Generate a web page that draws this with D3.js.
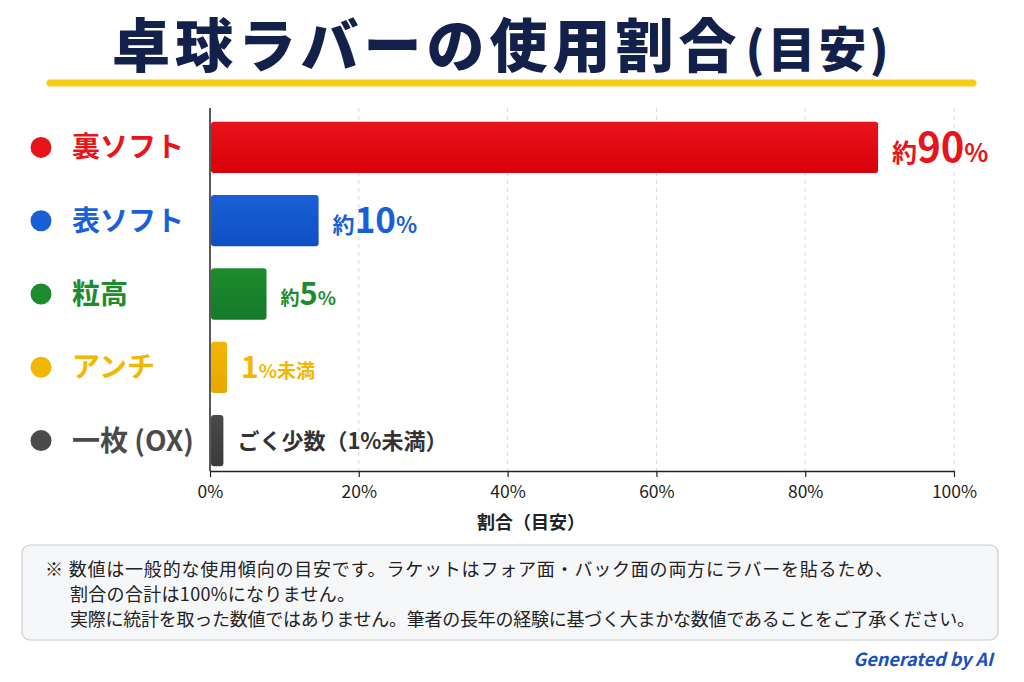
<!DOCTYPE html>
<html>
<head>
<meta charset="utf-8">
<script src="https://cdn.jsdelivr.net/npm/d3@7"></script>
<style>
  body { margin: 0; background: #ffffff; }
  svg text { font-family: "Noto Sans CJK JP", "Noto Sans", sans-serif; }
</style>
</head>
<body>
<div id="canevas"></div>
<script>
// ---------------- données ----------------
let categories = ["裏ソフト", "表ソフト", "粒高", "アンチ", "一枚 (OX)"];
let valeurs = [89.8, 14.6, 7.6, 2.3, 1.8];          // longueur (%)
let etiquettes = ["約90%", "約10%", "約5%", "1%未満", "ごく少数（1%未満）"];
let ticks = [0, 20, 40, 60, 80, 100];
let notes = [
  "※ 数値は一般的な使用傾向の目安です。ラケットはフォア面・バック面の両方にラバーを貼るため、",
  "割合の合計は100%になりません。",
  "実際に統計を取った数値ではありません。筆者の長年の経験に基づく大まかな数値であることをご了承ください。"
];

// styles
let couleurs = ["#e8141b", "#1a5fd6", "#1e8c2e", "#f2b705", "#4a4a4a"];
let couleursFonce = ["#d90008", "#0f4fc4", "#15792a", "#e8a800", "#3a3a3a"];
let taillesNombre = [40, 35, 31, 30, 22];
let longueursNotes = [848, 285, 905];

// ---------------- canevas ----------------
let largeur = 1024, hauteur = 682;
let svg = d3.select("#canevas").append("svg")
  .attr("width", largeur).attr("height", hauteur);

svg.append("rect").attr("width", largeur).attr("height", hauteur).attr("fill", "#ffffff");

// dégradés des barres
let defs = svg.append("defs");
couleurs.forEach((c, i) => {
  let g = defs.append("linearGradient").attr("id", "grad" + i)
    .attr("x1", 0).attr("y1", 0).attr("x2", 0).attr("y2", 1);
  g.append("stop").attr("offset", "0%").attr("stop-color", c);
  g.append("stop").attr("offset", "100%").attr("stop-color", couleursFonce[i]);
});

// titre
let titre = svg.append("text")
  .attr("x", 112).attr("y", 67)
  .attr("fill", "#13214a").attr("font-weight", 900);
titre.append("tspan").attr("font-size", 58).attr("letter-spacing", 5).text("卓球ラバーの使用割合");
titre.append("tspan").attr("font-size", 48).attr("letter-spacing", 3).attr("dx", 4).text("(目安)");

svg.append("line")
  .attr("x1", 50).attr("x2", 973).attr("y1", 83).attr("y2", 83)
  .attr("stroke", "#f5cc16").attr("stroke-width", 7).attr("stroke-linecap", "round");

// echelles
let echelleX = d3.scaleLinear().domain([0, 100]).range([210, 954]);
let echelleY = d3.scaleBand().domain(categories).range([113, 475]).paddingInner(0.3).paddingOuter(0.12);

// grille
svg.append("g").selectAll("line")
  .data(ticks.filter(t => t > 0))
  .enter().append("line")
  .attr("x1", d => echelleX(d)).attr("x2", d => echelleX(d))
  .attr("y1", 108).attr("y2", 471)
  .attr("stroke", "#d8d8d8").attr("stroke-width", 1).attr("stroke-dasharray", "4,4");

// axe x
let axeX = svg.append("g").attr("transform", "translate(0,471)")
  .call(d3.axisBottom(echelleX).tickValues(ticks).tickFormat(d => d + "%").tickSize(6).tickSizeOuter(0));
axeX.select(".domain").attr("stroke", "#222").attr("stroke-width", 1.5);
axeX.selectAll(".tick line").attr("stroke", "#222").attr("stroke-width", 1.2);
axeX.selectAll(".tick text").attr("font-size", 17.5).attr("fill", "#222").attr("dy", "1.0em");

svg.append("text").attr("x", 531).attr("y", 529).attr("text-anchor", "middle")
  .attr("font-size", 18).attr("font-weight", 700).attr("fill", "#222").text("割合（目安）");

// axe y
svg.append("line").attr("x1", 210).attr("x2", 210).attr("y1", 108).attr("y2", 471)
  .attr("stroke", "#222").attr("stroke-width", 1.5);

// barres
svg.append("g").selectAll("rect")
  .data(categories)
  .enter().append("rect")
  .attr("x", echelleX(0) + 1)
  .attr("y", d => echelleY(d))
  .attr("width", (d, i) => echelleX(valeurs[i]) - echelleX(0) - 1)
  .attr("height", echelleY.bandwidth())
  .attr("rx", 3)
  .attr("fill", (d, i) => "url(#grad" + i + ")");

// libellés des catégories
let lib = svg.append("g").selectAll("g")
  .data(categories)
  .enter().append("g")
  .attr("transform", d => "translate(0," + (echelleY(d) + echelleY.bandwidth() / 2) + ")");
lib.append("circle").attr("cx", 41).attr("cy", 0).attr("r", 10.5)
  .attr("fill", (d, i) => couleurs[i]);
lib.append("text").attr("x", 72).attr("y", 10)
  .attr("font-size", 28).attr("font-weight", 700)
  .attr("fill", (d, i) => couleurs[i])
  .text(d => d);

// étiquettes des valeurs
categories.forEach((c, i) => {
  let cy = echelleY(c) + echelleY.bandwidth() / 2;
  let t = svg.append("text")
    .attr("x", echelleX(valeurs[i]) + 14)
    .attr("y", cy + (i < 4 ? taillesNombre[i] * 0.36 : 8))
    .attr("fill", i < 4 ? couleurs[i] : "#333")
    .attr("font-weight", 700);
  if (i < 4) {
    let morceaux = etiquettes[i].split(/(\d+)/).filter(s => s.length);
    morceaux.forEach(m => {
      let estNombre = /^\d+$/.test(m);
      t.append("tspan")
        .attr("font-size", estNombre ? taillesNombre[i] : Math.round(taillesNombre[i] * 0.62))
        .text(m);
    });
  } else {
    t.attr("font-size", 22).text(etiquettes[i]);
  }
});

// note
svg.append("rect")
  .attr("x", 22).attr("y", 545).attr("width", 976).attr("height", 95).attr("rx", 8)
  .attr("fill", "#f6f7f9").attr("stroke", "#c9ccd1").attr("stroke-width", 1.2);
svg.append("g").selectAll("text")
  .data(notes)
  .enter().append("text")
  .attr("x", (d, i) => i === 0 ? 45 : 70)
  .attr("y", (d, i) => 576 + i * 25)
  .attr("font-size", 18).attr("fill", "#222")
  .attr("textLength", (d, i) => longueursNotes[i])
  .attr("lengthAdjust", "spacing")
  .text(d => d);

svg.append("text").attr("x", 993).attr("y", 666).attr("text-anchor", "end")
  .attr("font-family", "Roboto, 'Noto Sans', sans-serif")
  .attr("font-size", 18).attr("font-weight", 700).attr("font-style", "italic")
  .attr("fill", "#1a4fc0").text("Generated by AI");
</script>
</body>
</html>
